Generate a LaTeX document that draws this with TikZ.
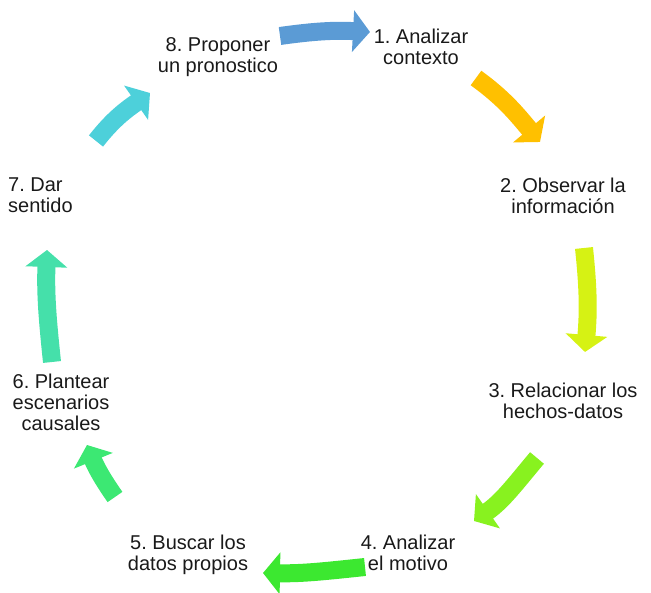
\documentclass[tikz,border=0pt]{standalone}
\usepackage{fontspec}
\setmainfont{Liberation Sans}
\usetikzlibrary{arrows.meta}

\definecolor{cBlue}{HTML}{5B9BD5}
\definecolor{cOrange}{HTML}{FFC000}
\definecolor{cLime}{HTML}{D6F214}
\definecolor{cYGreen}{HTML}{88F21F}
\definecolor{cGreen}{HTML}{3CE830}
\definecolor{cMint}{HTML}{3CE873}
\definecolor{cAqua}{HTML}{45E0AA}
\definecolor{cCyan}{HTML}{4DD0DA}

\tikzset{
  label/.style={font=\fontsize{20}{21}\selectfont\frenchspacing, text=black!90, inner sep=0pt, align=center, anchor=north},
  flow/.style={line width=18pt, line cap=butt, draw=#1,
    -{Triangle[width=41pt,length=17pt,fill=#1]}}
}

\begin{document}
\begin{tikzpicture}[x=1pt,y=1pt]
\useasboundingbox (0,0) rectangle (651,593);

% step labels around the cycle
\node[label] (s1) at (421,564.5) {1. Analizar\\contexto};
\node[label] (s2) at (563,415.5) {2. Observar la\\información};
\node[label] (s3) at (563,210.5) {3. Relacionar los\\hechos-datos};
\node[label] (s4) at (408,58.5) {4. Analizar\\el motivo};
\node[label] (s5) at (188,58.5) {5. Buscar los\\datos propios};
\node[label] (s6) at (61,219.5) {6. Plantear\\escenarios\\causales};
\node[label, align=left, anchor=north west] (s7) at (8,415.5) {7. Dar\\sentido};
\node[label] (s8) at (218,555.5) {8. Proponer\\un pronostico};

% arrow ends between consecutive steps
\coordinate (t81) at (280,557); \coordinate (h81) at (370,561);
\coordinate (t12) at (476,515); \coordinate (h12) at (540,451);
\coordinate (t23) at (584,345); \coordinate (h23) at (585,241);
\coordinate (t34) at (537,135); \coordinate (h34) at (474,72);
\coordinate (t45) at (365,26);  \coordinate (h45) at (263,20);
\coordinate (t56) at (115,96);  \coordinate (h56) at (87,148);
\coordinate (t67) at (52,231);  \coordinate (h67) at (47,343);
\coordinate (t78) at (96,452);  \coordinate (h78) at (150,500);

% curved block arrows, clockwise
\draw[flow=cBlue]   (t81) to[out=8,   in=177] (h81);
\draw[flow=cOrange] (t12) to[out=-36, in=130] (h12);
\draw[flow=cLime]   (t23) to[out=-84, in=85]  (h23);
\draw[flow=cYGreen] (t34) to[out=-130,in=35]  (h34);
\draw[flow=cGreen]  (t45) to[out=186, in=-1]  (h45);
\draw[flow=cMint]   (t56) to[out=125, in=-68] (h56);
\draw[flow=cAqua]   (t67) to[out=96,  in=-92] (h67);
\draw[flow=cCyan]   (t78) to[out=52,  in=-145] (h78);
\end{tikzpicture}
\end{document}
